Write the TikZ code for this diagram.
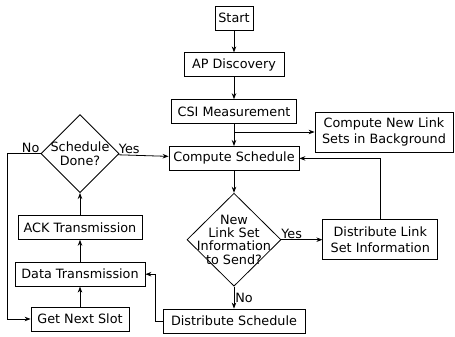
\documentclass[tikz,border=0pt]{standalone}
\usepackage{fontspec}
\setmainfont{DejaVu Sans}
\usetikzlibrary{arrows.meta,positioning,shapes.geometric}

\begin{document}
\begin{tikzpicture}[x=1pt,y=-1pt,>={Stealth[length=6pt,width=4.5pt]},
    line width=0.8pt,node distance=22pt,
    font=\fontsize{12.8}{16}\selectfont,
    block/.style={draw,rectangle,inner sep=3pt,minimum height=24pt,align=center},
    decision/.style={draw,diamond,aspect=1,inner sep=0pt},
    decisiontext/.style={align=center,inner sep=0pt,font=\fontsize{12.8}{13.3}\selectfont},
    answer/.style={inner sep=1pt}]
  \useasboundingbox (0,0) rectangle (455,337);
  % main column
  \node[block,minimum width=38pt] (start) at (234,18) {Start};
  \node[block,minimum width=100pt,below=of start] (discovery) {AP Discovery};
  \node[block,minimum width=125pt,below=of discovery] (csi) {CSI Measurement};
  \node[block,minimum width=130pt,below=of csi] (compute) {Compute Schedule};
  \node[decision,minimum width=94pt,minimum height=93pt,below=of compute] (newinfo) {};
  \node[decisiontext] (newinfo text) at (newinfo) {New\\Link Set\\Information\\to Send?};
  \node[block,minimum width=142pt,below=of newinfo] (distsched) {Distribute Schedule};
  \node[block,minimum width=115pt,minimum height=40pt,right=41pt of newinfo] (distinfo) {Distribute Link\\Set Information};
  \node[block,minimum width=138pt,minimum height=40pt] (background) at (384,132) {Compute New Link\\Sets in Background};
  % slot loop
  \node[block,minimum width=98pt] (nextslot) at (80,319) {Get Next Slot};
  \node[block,minimum width=130pt,above=20pt of nextslot] (data) {Data Transmission};
  \node[block,minimum width=124pt,above=of data] (ack) {ACK Transmission};
  \node[decision,minimum width=78pt,minimum height=78pt,above=of ack] (done) {};
  \node[decisiontext] (done text) at (done) {Schedule\\Done?};

  \draw[->] (start) -- (discovery);
  \draw[->] (discovery) -- (csi);
  \draw[->] (csi) -- (compute);
  \draw[->] (csi.south |- background.west) -- (background.west);
  \draw[->] (compute) -- (newinfo);
  \draw[->] (newinfo) -- node[answer,right] {No} (distsched);
  \draw[->] (newinfo) -- node[answer,above,pos=0.25] {Yes} (distinfo);
  \draw[->] (distinfo.north) |- (compute.east);
  \draw[->] (distsched.west) -- ++(-7,0) |- (data.east);
  \draw[->] (nextslot) -- (data);
  \draw[->] (data) -- (ack);
  \draw[->] (ack) -- (done);
  \draw[->] (done) -- node[answer,above,pos=0.22] {Yes} (compute);
  \draw[->] (done.west) -- node[answer,above,pos=0.3] {No} ++(-33,0) |- (nextslot.west);
\end{tikzpicture}
\end{document}
